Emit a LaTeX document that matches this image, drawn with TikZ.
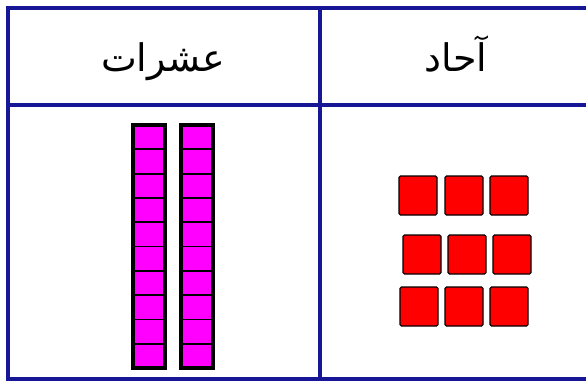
\documentclass[tikz,border=0pt]{standalone}
\usepackage{fontspec}
\newfontfamily\arabicfont[Script=Arabic]{DejaVu Sans}
\TeXXeTstate=1
\definecolor{gridblue}{RGB}{22,22,150}
\definecolor{rodpink}{RGB}{255,0,255}
\definecolor{unitred}{RGB}{255,0,0}
\tikzset{
  gridline/.style={draw=gridblue, line width=3.2pt},
  rodcell/.style={fill=rodpink, draw=black, line width=1.8pt},
  rodframe/.style={draw=black, line width=3.2pt},
  unitsq/.style={fill=unitred, draw=black, line width=1.3pt, rounded corners=1.5pt},
  header/.style={font=\arabicfont\fontsize{38}{46}\selectfont, inner sep=0pt, anchor=base}
}
\begin{document}
\begin{tikzpicture}[x=1pt,y=-1pt]
\useasboundingbox (0,0) rectangle (586,381);
\fill[white] (0,0) rectangle (586,381);
% table
\draw[gridline] (590,8) -- (8,8) -- (8,379) -- (590,379);
\draw[gridline] (8,105) -- (590,105);
\draw[gridline] (320,8) -- (320,379);
% headers
\node[header] (tens) at (163,71) {\beginR عشرات\endR};
\node[header] (ones) at (456,71) {\beginR آحاد\endR};
% rods
\foreach \x in {133,181}{
  \foreach \i in {0,...,9}{
    \draw[rodcell] (\x,125+24.3*\i) rectangle (\x+32,125+24.3*\i+24.3);
  }
  \draw[rodframe] (\x,125) rectangle (\x+32,368);
}
% units
\foreach \x/\y in {399/176,445/176,490/176,403/235,448/235,493/235,400/287,445/287,490/287}{
  \draw[unitsq] (\x,\y) rectangle (\x+38,\y+39);
}
\end{tikzpicture}
\end{document}
